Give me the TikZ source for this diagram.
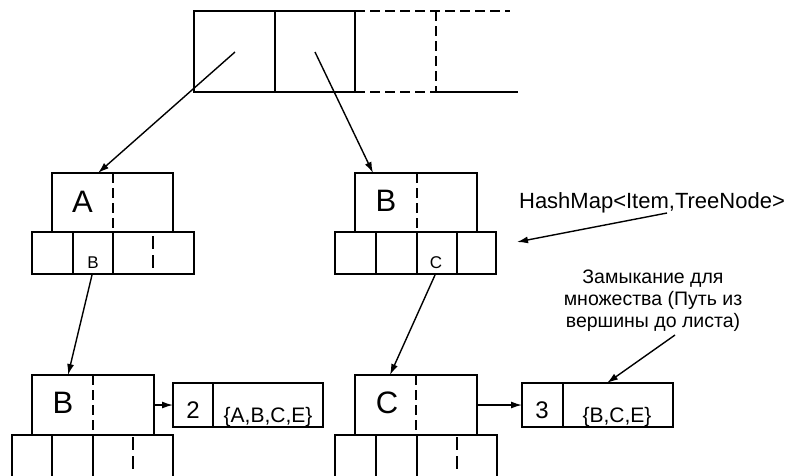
\documentclass[tikz,border=0pt]{standalone}
\usepackage{fontspec}
\setmainfont{Liberation Sans}
\usetikzlibrary{arrows.meta}
\begin{document}
\begin{tikzpicture}[x=1pt,y=-1pt,
  line width=1.6pt,
  cell/.style={draw, inner sep=0pt, outer sep=0pt, anchor=north west},
  divider/.style={dash pattern=on 10pt off 5pt},
  shortdiv/.style={dash pattern=on 13pt off 6pt},
  big/.style={font=\fontsize{31}{36}\selectfont, anchor=base, inner sep=0pt},
  key/.style={font=\fontsize{17}{19}\selectfont, anchor=base, inner sep=0pt},
  num/.style={font=\fontsize{24}{28}\selectfont, anchor=base, inner sep=0pt},
  setlabel/.style={font=\fontsize{21}{24}\selectfont, anchor=base, inner sep=0pt},
  note/.style={font=\fontsize{19.5}{22}\selectfont, anchor=base, inner sep=0pt},
  link/.style={-{Latex[length=11pt,width=7pt]}, line width=1.4pt}
]
\clip (0,0) rectangle (794,475);

% ---- root array of buckets
\node[cell, minimum width=81pt, minimum height=81pt] (h1) at (194,11) {};
\node[cell, minimum width=80pt, minimum height=81pt] (h2) at (h1.north east) {};
\draw[divider] (h2.north east) -- (510,11);
\draw[divider] (h2.south east) -- (436,92);
\draw (436,92) -- (518,92);
\draw[divider] (436,11) -- (436,92);
\coordinate (p1) at (235,52);
\coordinate (p2) at (315,52);

% ---- tree node A
\node[cell, minimum width=121pt, minimum height=59pt] (na) at (52,173) {};
\draw[divider] (113,173) -- (113,228);
\node[big] (la) at (82.5,212) {A};
\node[cell, minimum width=41pt, minimum height=42pt] (na1) at (32,232) {};
\node[cell, minimum width=40pt, minimum height=42pt] (na2) at (na1.north east) {};
\node[cell, minimum width=81pt, minimum height=42pt] (na3) at (na2.north east) {};
\draw[shortdiv] (153,236) -- (153,268);
\node[key] (ka) at (93,268) {B};

% ---- tree node B (upper)
\node[cell, minimum width=122pt, minimum height=59pt] (nb) at (355,173) {};
\draw[divider] (417,173) -- (417,228);
\node[big] (lb) at (386,211) {B};
\node[cell, minimum width=41pt, minimum height=42pt] (nb1) at (335,232) {};
\node[cell, minimum width=41pt, minimum height=42pt] (nb2) at (nb1.north east) {};
\node[cell, minimum width=40pt, minimum height=42pt] (nb3) at (nb2.north east) {};
\node[cell, minimum width=39pt, minimum height=42pt] (nb4) at (nb3.north east) {};
\node[key] (kb) at (436,268) {C};

% ---- tree node B (lower)
\node[cell, minimum width=122pt, minimum height=60pt] (nc) at (32,375) {};
\draw[divider] (93,375) -- (93,432);
\node[big] (lc) at (63,413) {B};
\node[cell, minimum width=40pt, minimum height=60pt] (nc1) at (12,435) {};
\node[cell, minimum width=41pt, minimum height=60pt] (nc2) at (nc1.north east) {};
\node[cell, minimum width=80pt, minimum height=60pt] (nc3) at (nc2.north east) {};
\draw[shortdiv] (133,437) -- (133,469);
\node[cell, minimum width=40pt, minimum height=44pt] (sa1) at (173,383) {};
\node[cell, minimum width=110pt, minimum height=44pt] (sa2) at (sa1.north east) {};
\node[num] (sn1) at (193,418) {2};
\node[setlabel] (ss1) at (268,422) {\{A,B,C,E\}};

% ---- tree node C (lower)
\node[cell, minimum width=122pt, minimum height=60pt] (nd) at (355,375) {};
\draw[divider] (416,375) -- (416,432);
\node[big] (ld) at (387,413) {C};
\node[cell, minimum width=41pt, minimum height=60pt] (nd1) at (335,435) {};
\node[cell, minimum width=41pt, minimum height=60pt] (nd2) at (nd1.north east) {};
\node[cell, minimum width=80pt, minimum height=60pt] (nd3) at (nd2.north east) {};
\draw[shortdiv] (457,437) -- (457,469);
\node[cell, minimum width=41pt, minimum height=44pt] (sb1) at (522,383) {};
\node[cell, minimum width=110pt, minimum height=44pt] (sb2) at (sb1.north east) {};
\node[num] (sn2) at (542,418) {3};
\node[setlabel] (ss2) at (617,422) {\{B,C,E\}};

% ---- annotations
\node[font=\fontsize{22}{26}\selectfont, anchor=base, inner sep=0pt] (hm) at (652,208) {HashMap<Item,TreeNode>};
\node[note] (cl1) at (653,283) {Замыкание для};
\node[note] (cl2) at (653,305) {множества (Путь из};
\node[note] (cl3) at (653,327) {вершины до листа)};
\coordinate (hmtail) at (667,213);
\coordinate (hmhead) at (517,242);
\coordinate (cltail) at (675,335);

% ---- connectors
\draw[link] (p1) -- ([xshift=46pt]na.north west);
\draw[link] (p2) -- ([xshift=18pt]nb.north west);
\draw[link] (92,275) -- ([xshift=36pt]nc.north west);
\draw[link] (435,275) -- ([xshift=35pt]nd.north west);
\draw[link] (nc.east |- sa1.west) -- (sa1.west);
\draw[link] (nd.east |- sb1.west) -- (sb1.west);
\draw[link] (hmtail) -- (hmhead);
\draw[link] (cltail) -- ([xshift=44pt]sb2.north west);
\end{tikzpicture}
\end{document}
